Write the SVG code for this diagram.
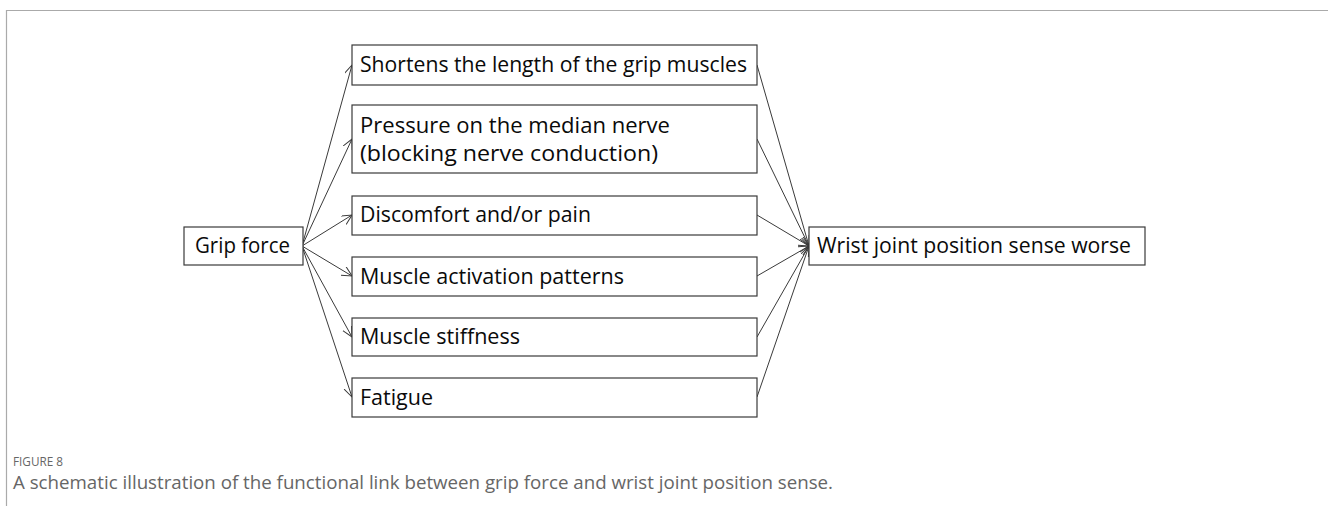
<svg xmlns="http://www.w3.org/2000/svg" width="1328" height="506" viewBox="0 0 1328 506">
<defs>
<style>
.box{fill:#fff;stroke:#3a3a3a;stroke-width:1.2}
.lbl{font-family:"Open Sans","Liberation Sans",sans-serif;font-size:22px;fill:#0a0a0a}
.conn line{stroke:#3a3a3a;stroke-width:1}
.cap{font-family:"Open Sans","Liberation Sans",sans-serif;fill:#666}
</style>
<marker id="arr" markerWidth="12" markerHeight="12" refX="10" refY="5" orient="auto" markerUnits="userSpaceOnUse">
<path d="M0,0 L10,5 L0,10" fill="none" stroke="#3a3a3a" stroke-width="1"/>
</marker>
</defs>
<rect width="1328" height="506" fill="#fff"/>
<path d="M6.5,506 V10.5 H1328" fill="none" stroke="#aaa" stroke-width="1.2"/>
<g class="conn">
<line x1="302" y1="246" x2="352" y2="65" marker-end="url(#arr)"/>
<line x1="302" y1="246" x2="352" y2="139" marker-end="url(#arr)"/>
<line x1="302" y1="246" x2="352" y2="215" marker-end="url(#arr)"/>
<line x1="302" y1="246" x2="352" y2="276" marker-end="url(#arr)"/>
<line x1="302" y1="246" x2="352" y2="337" marker-end="url(#arr)"/>
<line x1="302" y1="246" x2="352" y2="397" marker-end="url(#arr)"/>
<line x1="757" y1="65" x2="809" y2="246" marker-end="url(#arr)"/>
<line x1="757" y1="139" x2="809" y2="246" marker-end="url(#arr)"/>
<line x1="757" y1="215" x2="809" y2="246" marker-end="url(#arr)"/>
<line x1="757" y1="276" x2="809" y2="246" marker-end="url(#arr)"/>
<line x1="757" y1="337" x2="809" y2="246" marker-end="url(#arr)"/>
<line x1="757" y1="397" x2="809" y2="246" marker-end="url(#arr)"/>
</g>
<g id="grip"><rect class="box" x="184" y="227" width="119" height="38"/><text class="lbl" x="195" y="253" textLength="95" lengthAdjust="spacingAndGlyphs">Grip force</text></g>
<g id="n1"><rect class="box" x="352" y="45" width="405" height="40"/><text class="lbl" x="360" y="72" textLength="387" lengthAdjust="spacingAndGlyphs">Shortens the length of the grip muscles</text></g>
<g id="n2"><rect class="box" x="352" y="105" width="405" height="68"/><text class="lbl" x="360" y="133" textLength="310" lengthAdjust="spacingAndGlyphs">Pressure on the median nerve</text><text class="lbl" x="360" y="161" textLength="298" lengthAdjust="spacingAndGlyphs">(blocking nerve conduction)</text></g>
<g id="n3"><rect class="box" x="352" y="196" width="405" height="39"/><text class="lbl" x="360" y="222" textLength="231" lengthAdjust="spacingAndGlyphs">Discomfort and/or pain</text></g>
<g id="n4"><rect class="box" x="352" y="257" width="405" height="39"/><text class="lbl" x="360" y="284" textLength="264" lengthAdjust="spacingAndGlyphs">Muscle activation patterns</text></g>
<g id="n5"><rect class="box" x="352" y="318" width="405" height="38"/><text class="lbl" x="360" y="344" textLength="160" lengthAdjust="spacingAndGlyphs">Muscle stiffness</text></g>
<g id="n6"><rect class="box" x="352" y="378" width="405" height="39"/><text class="lbl" x="360" y="405" textLength="73" lengthAdjust="spacingAndGlyphs">Fatigue</text></g>
<g id="wrist"><rect class="box" x="809" y="227" width="336" height="38"/><text class="lbl" x="817" y="253" textLength="314" lengthAdjust="spacingAndGlyphs">Wrist joint position sense worse</text></g>
<text class="cap" x="13" y="466" font-size="13.5" textLength="50" lengthAdjust="spacingAndGlyphs">FIGURE 8</text>
<text class="cap" x="13" y="489" font-size="17.5" textLength="820" lengthAdjust="spacingAndGlyphs">A schematic illustration of the functional link between grip force and wrist joint position sense.</text>
</svg>
